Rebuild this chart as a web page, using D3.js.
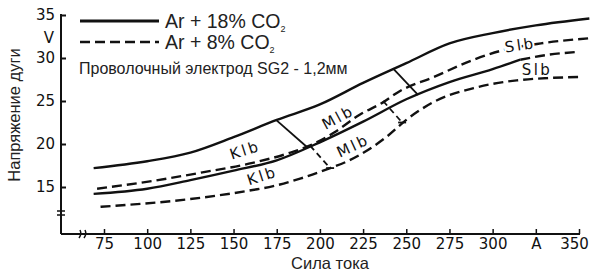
<!DOCTYPE html>
<html>
<head>
<meta charset="utf-8">
<script src="https://cdn.jsdelivr.net/npm/d3@7/dist/d3.min.js"></script>
<style>
  body { margin: 0; background: #fff; }
</style>
</head>
<body>
<svg id="chart" width="590" height="277"></svg>
<script>
// tick values
var yTicks = [15, 20, 25, 30, 35];
var xTicks = [75, 100, 125, 150, 175, 200, 225, 250, 275, 300, 325, 350];

// curves: [current A, arc voltage V]
var co18Upper = [[69,17.2],[100,18.0],[125,19.0],[150,20.8],[175,22.8],[200,24.6],[225,27.1],[250,29.4],[275,31.7],[300,32.9],[325,33.8],[356,34.6]];
var co18Lower = [[69,14.2],[100,14.8],[125,15.8],[150,16.9],[175,18.1],[200,20.2],[225,22.6],[250,25.2],[275,27.2],[300,28.7],[316,29.8]];
var co18LowerExt = [[316,29.8],[333,30.4],[349,30.7]];
var co8Upper = [[71,14.8],[103,15.7],[132,16.7],[161,17.8],[183,19.0],[194,19.8],[208,21.3],[223,23.4],[237,24.9],[245,26.0],[266,27.8],[289,29.8],[304,30.8],[328,31.7],[356,32.3]];
var co8Lower = [[73,12.7],[125,13.6],[161,14.65],[173,15.1],[189,16.0],[206,17.2],[216,18.0],[239,20.9],[250,22.8],[266,24.9],[289,26.5],[314,27.4],[351,27.8]];

// transition lines between arc types
var solidBounds = [
  [[174.6,22.8],[192.5,19.65]],
  [[242.3,28.8],[256.8,25.7]]
];
var dashedBounds = [
  [[194.3,19.8],[205.9,17.2]],
  [[236.6,25.0],[247.6,22.5]]
];

// region labels: text, A, V, angle
var regionLabels = [
  ["Klb", 156.6, 19.3, -18],
  ["Klb", 166.5, 16.3, -18],
  ["Mlb", 210.5, 23.1, -28],
  ["Mlb", 219.2, 19.8, -25],
  ["Slb", 315.9, 31.5, -8],
  ["Slb", 325.7, 28.6, 0]
];

var svg = d3.select("#chart");
var axisX = 61, axisY = 234;
var handFont = "DejaVu Sans";
var textFont = "Liberation Sans, Arial, sans-serif";

var x = d3.scaleLinear().domain([75, 350]).range([104, 579]);
var y = d3.scaleLinear().domain([15, 35]).range([187, 15]);

// y axis
var yAxis = svg.append("g")
  .attr("transform", "translate(" + axisX + ",0)")
  .call(d3.axisLeft(y).tickValues(yTicks).tickSize(-5).tickPadding(6));
yAxis.select(".domain").remove();
yAxis.selectAll(".tick line").attr("stroke", "#111").attr("stroke-width", 2);
yAxis.selectAll("text").attr("font-family", handFont).attr("font-size", 15).attr("fill", "#111");

svg.append("line")
  .attr("x1", axisX).attr("x2", axisX)
  .attr("y1", y(35) - 1).attr("y2", axisY)
  .attr("stroke", "#111").attr("stroke-width", 2);

// y axis break
[211, 215].forEach(function(b) {
  svg.append("line")
    .attr("x1", axisX - 4).attr("x2", axisX + 4)
    .attr("y1", b).attr("y2", b)
    .attr("stroke", "#111").attr("stroke-width", 1.5);
});

svg.append("text")
  .attr("x", 49).attr("y", 43)
  .attr("text-anchor", "middle")
  .attr("font-family", handFont).attr("font-size", 15)
  .attr("fill", "#111")
  .text("V");

// x axis
var xAxis = svg.append("g")
  .attr("transform", "translate(0," + axisY + ")")
  .call(d3.axisBottom(x).tickValues(xTicks).tickSize(-5).tickPadding(4)
    .tickFormat(function(d) { return d === 325 ? "A" : d; }));
xAxis.select(".domain").remove();
xAxis.selectAll(".tick line").attr("stroke", "#111").attr("stroke-width", 1.5);
xAxis.selectAll("text")
  .attr("font-family", handFont).attr("font-size", 15).attr("fill", "#111")
  .attr("dx", function(d) { return d === 350 ? -5 : 0; });

svg.append("line")
  .attr("x1", axisX).attr("x2", x(350) + 1)
  .attr("y1", axisY).attr("y2", axisY)
  .attr("stroke", "#111").attr("stroke-width", 2);

// x axis break
[79, 84].forEach(function(b) {
  svg.append("path")
    .attr("d", "M" + b + "," + (axisY + 4) + " Q" + (b + 3) + "," + axisY + " " + (b + 1) + "," + (axisY - 4))
    .attr("fill", "none")
    .attr("stroke", "#111").attr("stroke-width", 1.5);
});

// axis titles
svg.append("text")
  .attr("transform", "translate(20,115) rotate(-90)")
  .attr("text-anchor", "middle")
  .attr("font-family", textFont).attr("font-size", 16.5)
  .attr("fill", "#222")
  .text("Напряжение дуги");

svg.append("text")
  .attr("x", 330).attr("y", 269)
  .attr("text-anchor", "middle")
  .attr("font-family", textFont).attr("font-size", 16.5)
  .attr("fill", "#222")
  .text("Сила тока");

// curves
var line = d3.line()
  .x(function(d) { return x(d[0]); })
  .y(function(d) { return y(d[1]); })
  .curve(d3.curveMonotoneX);

function drawCurve(data, dashed) {
  svg.append("path")
    .datum(data)
    .attr("d", line)
    .attr("fill", "none")
    .attr("stroke", "#111")
    .attr("stroke-width", 2.4)
    .attr("stroke-dasharray", dashed ? "10,5" : null);
}

drawCurve(co18Upper, false);
drawCurve(co18Lower, false);
drawCurve(co18LowerExt, true);
drawCurve(co8Upper, true);
drawCurve(co8Lower, true);

var straight = d3.line()
  .x(function(d) { return x(d[0]); })
  .y(function(d) { return y(d[1]); });

solidBounds.forEach(function(b) {
  svg.append("path")
    .attr("d", straight(b))
    .attr("fill", "none")
    .attr("stroke", "#111").attr("stroke-width", 1.8);
});

dashedBounds.forEach(function(b) {
  svg.append("path")
    .attr("d", straight(b))
    .attr("fill", "none")
    .attr("stroke", "#111").attr("stroke-width", 1.8)
    .attr("stroke-dasharray", "6,4");
  // little end bar at the bottom
  svg.append("line")
    .attr("x1", x(b[1][0]) - 4).attr("x2", x(b[1][0]) + 4)
    .attr("y1", y(b[1][1])).attr("y2", y(b[1][1]))
    .attr("stroke", "#111").attr("stroke-width", 1.8);
});

// region labels (white halo breaks the lines under them)
svg.selectAll(".region")
  .data(regionLabels)
  .enter()
  .append("text")
  .attr("class", "region")
  .attr("transform", function(d) { return "translate(" + x(d[1]) + "," + y(d[2]) + ") rotate(" + d[3] + ")"; })
  .attr("text-anchor", "middle")
  .attr("dy", "0.35em")
  .attr("font-family", handFont).attr("font-size", 15)
  .attr("letter-spacing", 2.5)
  .attr("fill", "#111")
  .attr("stroke", "#fff").attr("stroke-width", 4)
  .attr("paint-order", "stroke")
  .text(function(d) { return d[0]; });

// legend
var legend = [["Ar + 18% CO", false, 21], ["Ar + 8% CO", true, 42]];
legend.forEach(function(l) {
  svg.append("line")
    .attr("x1", 80).attr("x2", 159)
    .attr("y1", l[2]).attr("y2", l[2])
    .attr("stroke", "#111").attr("stroke-width", l[1] ? 2.4 : 3)
    .attr("stroke-dasharray", l[1] ? "10,5" : null);
  var t = svg.append("text")
    .attr("x", 165).attr("y", l[2] + 7)
    .attr("font-family", textFont).attr("font-size", 19.5)
    .attr("fill", "#222")
    .text(l[0]);
  t.append("tspan")
    .attr("font-size", 9).attr("dy", 4)
    .text("2");
});

svg.append("text")
  .attr("x", 79).attr("y", 74)
  .attr("font-family", textFont).attr("font-size", 16)
  .attr("fill", "#222")
  .text("Проволочный электрод SG2 - 1,2мм");
</script>
</body>
</html>
